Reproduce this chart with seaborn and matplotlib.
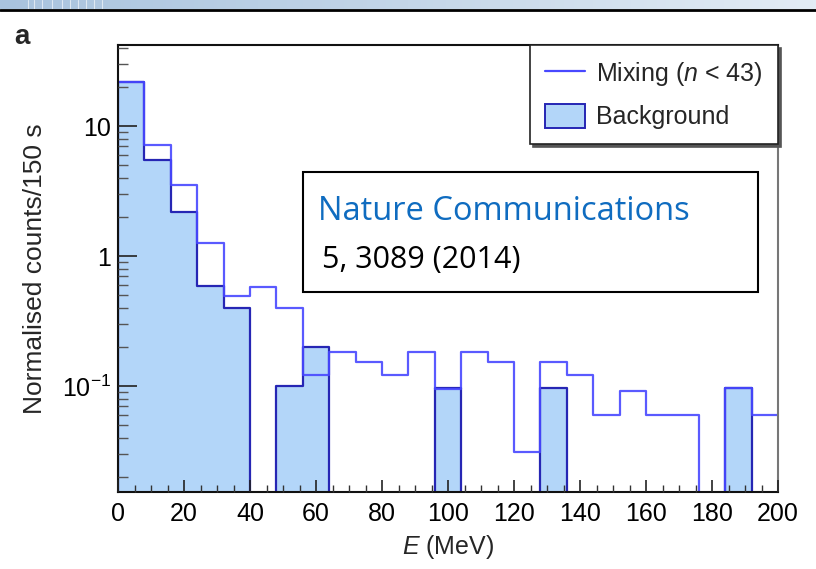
import numpy as np
import pandas as pd
import matplotlib
matplotlib.use("Agg")
import matplotlib.pyplot as plt
import seaborn as sns
from matplotlib.lines import Line2D
from matplotlib.patches import Patch, Rectangle
from matplotlib.colors import LinearSegmentedColormap
from matplotlib.ticker import LogLocator, MultipleLocator, FixedLocator, FixedFormatter

# 8 MeV energy bins from 0 to 200 MeV
bin_edges = list(range(0, 208, 8))
energy_centers = [e + 4 for e in bin_edges[:-1]]

# Normalised counts per 150 s in each bin
background_counts = [22.0, 5.5, 2.2, 0.59, 0.40, 0.0, 0.10, 0.20, 0.0, 0.0,
                     0.0, 0.0, 0.097, 0.0, 0.0, 0.0, 0.097, 0.0, 0.0, 0.0,
                     0.0, 0.0, 0.0, 0.097, 0.0]
mixing_counts = [22.0, 7.1, 3.5, 1.27, 0.49, 0.58, 0.40, 0.122, 0.183, 0.154,
                 0.122, 0.183, 0.095, 0.183, 0.153, 0.031, 0.153, 0.122, 0.060, 0.092,
                 0.060, 0.060, 0.0, 0.097, 0.060]

x_ticks = [0, 20, 40, 60, 80, 100, 120, 140, 160, 180, 200]
y_ticks = [0.1, 1, 10]
y_tick_labels = [r"$10^{-1}$", "1", "10"]

df = pd.DataFrame({"E": energy_centers,
                   "background": background_counts,
                   "mixing": mixing_counts})

sns.set_style("ticks")
plt.rcParams["font.family"] = ["Liberation Sans", "DejaVu Sans"]
plt.rcParams["mathtext.fontset"] = "custom"
plt.rcParams["mathtext.rm"] = "Liberation Sans"
plt.rcParams["mathtext.it"] = "Liberation Sans:italic"

fig = plt.figure(figsize=(8.16, 5.69), dpi=100)
ax = fig.add_axes([118 / 816, 1 - 492 / 569, 660 / 816, 447 / 569])

fill_color = "#b3d6f9"
bg_edge = "#2626b4"
mix_color = "#4848ff"

sns.histplot(data=df, x="E", weights="background", bins=bin_edges,
             element="step", fill=True, color=fill_color, alpha=1.0,
             edgecolor=bg_edge, linewidth=1.6, ax=ax)
sns.histplot(data=df, x="E", weights="mixing", bins=bin_edges,
             element="step", fill=False, color=mix_color, linewidth=1.6,
             alpha=0.9, ax=ax)

ax.set_yscale("log", nonpositive="clip")
ax.set_xlim(0, 200)
ax.set_ylim(0.0153, 42)
ax.set_axisbelow(False)

ax.xaxis.set_major_locator(FixedLocator(x_ticks))
ax.xaxis.set_minor_locator(MultipleLocator(5))
ax.yaxis.set_major_locator(FixedLocator(y_ticks))
ax.yaxis.set_major_formatter(FixedFormatter(y_tick_labels))
ax.yaxis.set_minor_locator(LogLocator(base=10, subs=np.arange(2, 10)))
ax.yaxis.set_minor_formatter(plt.NullFormatter())

ax.tick_params(axis="x", which="major", direction="in", length=9, width=1.2,
               labelsize=18, pad=7, colors="#222222")
ax.tick_params(axis="x", which="minor", direction="in", length=5, width=1.0,
               colors="#333333")
ax.tick_params(axis="y", which="major", direction="in", length=14, width=1.2,
               labelsize=18, pad=5, colors="#222222")
ax.tick_params(axis="y", which="minor", direction="in", length=7, width=1.0,
               colors="#555555")
ax.tick_params(labelcolor="black")

for side in ["left", "bottom", "top"]:
    ax.spines[side].set_visible(True)
    ax.spines[side].set_color("#111111")
    ax.spines[side].set_linewidth(1.5)
ax.spines["right"].set_visible(True)
ax.spines["right"].set_color("#777777")
ax.spines["right"].set_linewidth(1.5)

ax.set_xlabel(r"$E$ (MeV)", fontsize=18, labelpad=5)
ax.set_ylabel("Normalised counts/150 s", fontsize=19)
ax.yaxis.set_label_coords(-0.108, 0.5)

handles = [Line2D([0], [0], color=mix_color, lw=1.6),
           Patch(facecolor=fill_color, edgecolor=bg_edge, linewidth=1.4)]
leg = ax.legend(handles, [r"Mixing ($n$ < 43)", "Background"],
                loc="upper right", borderaxespad=0, fontsize=18,
                frameon=True, fancybox=False, edgecolor="#222222",
                shadow={"ox": 2, "oy": -2, "color": "#555555", "alpha": 1},
                handlelength=1.6, handleheight=1.1, handletextpad=0.45,
                borderpad=0.6, labelspacing=0.62)
leg.get_frame().set_linewidth(1.2)

# citation box
ax.add_patch(Rectangle((303 / 816, 1 - 292 / 569), 455 / 816, 120 / 569,
                       transform=fig.transFigure, facecolor="white",
                       edgecolor="black", linewidth=1.5, zorder=5))
fig.text(318 / 816, 1 - 220 / 569, "Nature Communications",
         family="Open Sans", fontsize=23.5, color="#0f6cc0", zorder=6)
fig.text(322 / 816, 1 - 268 / 569, "5, 3089 (2014)",
         family="Open Sans", fontsize=22, color="black", zorder=6)

fig.text(14 / 816, 1 - 44 / 569, "a", fontsize=20, fontweight="bold")

# slide header strip
strip = fig.add_axes([0, 1 - 9 / 569, 1, 9 / 569])
grad = np.linspace(0, 1, 256)[None, :]
cmap = LinearSegmentedColormap.from_list("hdr", ["#a9c3de", "#c4d6e8", "#e3ecf5"])
strip.imshow(grad, aspect="auto", cmap=cmap, extent=[0, 816, 0, 1])
for xs in [28, 34, 42, 52, 62, 70, 78, 86, 94, 102]:
    strip.axvline(xs, color="white", lw=0.8, alpha=0.6)
strip.set_xlim(0, 816)
strip.axis("off")
fig.add_artist(Line2D([0, 1], [1 - 10 / 569, 1 - 10 / 569],
                      transform=fig.transFigure, color="black", lw=2))

fig.savefig("out.png", dpi=100)
